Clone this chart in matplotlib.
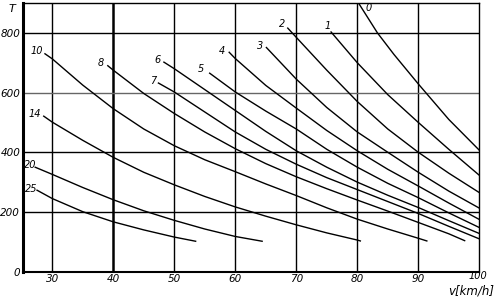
import matplotlib
matplotlib.use("Agg")
import matplotlib.pyplot as plt

# speed v [km/h] and load T, one pair of lists per curve
v_0 = [80.2, 83.3, 86, 90, 95, 100]
T_0 = [900, 800, 728, 629, 510, 407]
v_1 = [75.7, 80, 85, 90, 95, 100]
T_1 = [803, 700, 593, 500, 410, 323]
v_2 = [68.6, 70, 75, 80, 85, 90, 95, 100]
T_2 = [816, 785, 675, 570, 478, 400, 330, 265]
v_3 = [65.1, 70, 75, 80, 85, 90, 95, 100]
T_3 = [751, 645, 550, 468, 400, 333, 270, 213]
v_4 = [59.0, 60, 65, 70, 75, 80, 85, 90, 95, 100]
T_4 = [735, 714, 624, 548, 473, 405, 343, 287, 230, 175]
v_5 = [55.8, 60, 65, 70, 75, 80, 85, 90, 95, 100]
T_5 = [665, 602, 538, 478, 410, 350, 296, 248, 197, 148]
v_6 = [48.3, 50, 55, 60, 65, 70, 75, 80, 85, 90, 95, 100]
T_6 = [702, 680, 610, 540, 470, 405, 350, 300, 256, 215, 171, 128]
v_7 = [47.4, 50, 55, 60, 65, 70, 75, 80, 85, 90, 95, 100]
T_7 = [632, 602, 535, 468, 410, 360, 315, 275, 235, 195, 152, 110]
v_8 = [39.1, 40, 45, 50, 55, 60, 65, 70, 75, 80, 85, 90, 95, 97.6]
T_8 = [690, 675, 597, 530, 468, 412, 362, 318, 278, 240, 203, 165, 127, 104]
v_10 = [28.8, 30, 35, 40, 45, 50, 55, 60, 65, 70, 75, 80, 85, 90, 91.4]
T_10 = [730, 713, 625, 546, 478, 422, 375, 335, 294, 255, 214, 176, 143, 112, 103]
v_14 = [28.6, 30, 35, 40, 45, 50, 55, 60, 65, 70, 75, 80, 80.5]
T_14 = [521, 501, 440, 383, 333, 291, 252, 217, 186, 157, 130, 106, 103]
v_20 = [27.2, 30, 35, 40, 45, 50, 55, 60, 64.4]
T_20 = [350, 326, 282, 241, 204, 172, 143, 118, 102]
v_25 = [27.5, 30, 35, 40, 45, 50, 53.5]
T_25 = [273, 245, 201, 167, 140, 116, 102]

lab_text = ["0", "1", "2", "3", "4", "5", "6", "7", "8", "10", "14", "20", "25"]
lab_v = [81.9, 75.2, 67.6, 64.1, 57.8, 54.4, 47.2, 46.6, 38.0, 27.4, 27.2, 26.4, 26.5]
lab_T = [883, 824, 830, 757, 740, 679, 709, 638, 698, 740, 529, 356, 278]

x_ticks = [30, 40, 50, 60, 70, 80, 90, 100]
y_ticks = [0, 200, 400, 600, 800]

curves = [(v_0, T_0), (v_1, T_1), (v_2, T_2), (v_3, T_3), (v_4, T_4),
          (v_5, T_5), (v_6, T_6), (v_7, T_7), (v_8, T_8), (v_10, T_10),
          (v_14, T_14), (v_20, T_20), (v_25, T_25)]

fig = plt.figure(figsize=(5, 3.03), dpi=100)
ax = fig.add_axes([0.046, 0.1033, 0.9126, 0.8867])
ax.set_xlim(25.2, 100)
ax.set_ylim(0, 900)

# grid as in the original drawing
for x in x_ticks[:-1]:
    ax.axvline(x, color="black", lw=1.8 if x == 40 else 1.0, zorder=1)
for y in y_ticks[1:]:
    ax.axhline(y, color="0.4" if y == 600 else "black", lw=1.0, zorder=1)

for v, T in curves:
    ax.plot(v, T, color="black", lw=1.0, zorder=2)

for s, x, y in zip(lab_text, lab_v, lab_T):
    ax.text(x, y, s, fontsize=7, style="italic", ha="center", va="center")

ax.set_xticks(x_ticks)
ax.set_yticks(y_ticks)
# last x label sits a little higher in the original, drawn separately below
ax.set_xticklabels([str(x) for x in x_ticks[:-1]] + [""], fontsize=7.5, style="italic")
ax.set_yticklabels([str(y) for y in y_ticks], fontsize=7.5, style="italic")
ax.tick_params(length=0, pad=2)

ax.spines["left"].set_linewidth(2.2)
ax.spines["bottom"].set_linewidth(1.5)
ax.spines["top"].set_linewidth(1.0)
ax.spines["right"].set_linewidth(1.0)

ax.text(99.7, -16, str(x_ticks[-1]), fontsize=7, style="italic", ha="center",
        va="center", clip_on=False)
ax.text(23.4, 881, "T", fontsize=8, style="italic", ha="center", va="center",
        clip_on=False)
ax.text(98.6, -66, "v[km/h]", fontsize=8.5, style="italic", ha="center",
        va="center", clip_on=False)

fig.savefig("out.png", dpi=100)
